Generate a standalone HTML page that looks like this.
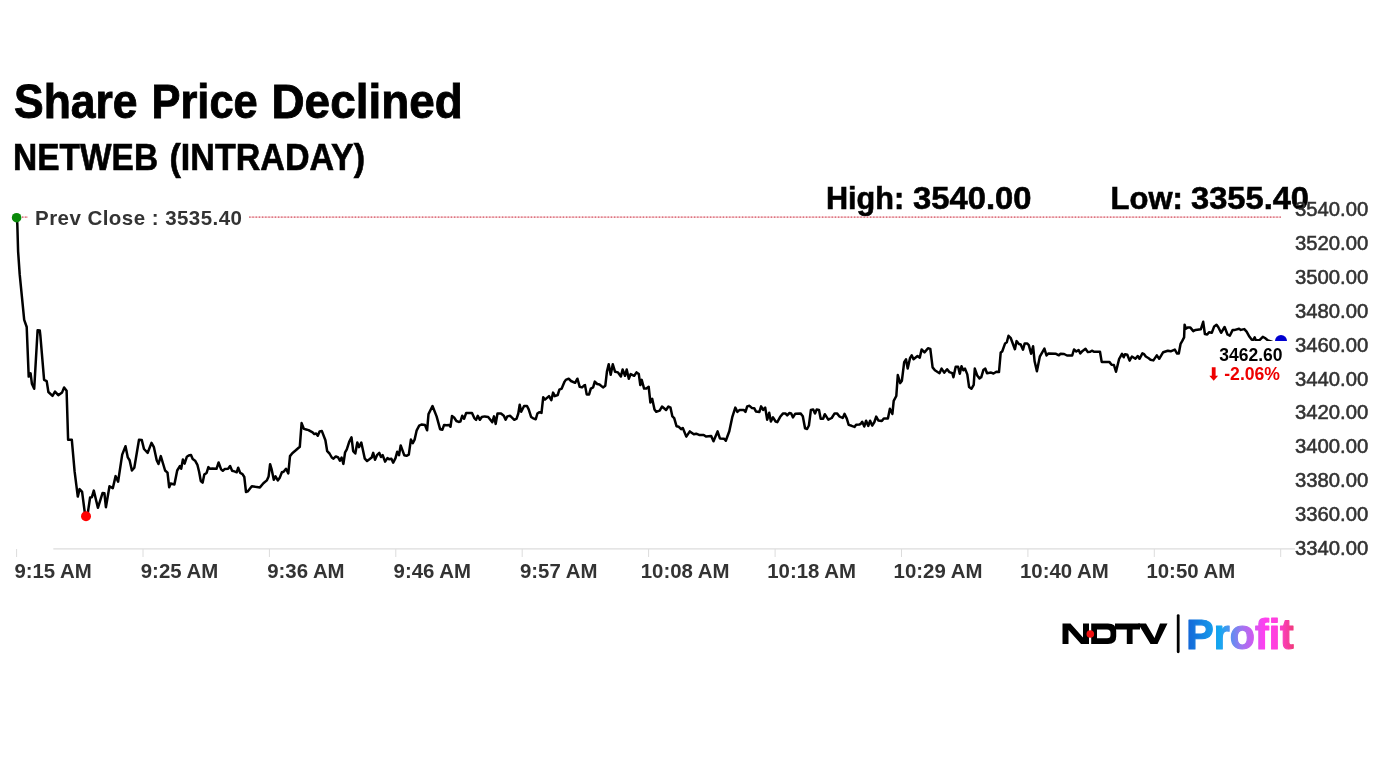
<!DOCTYPE html>
<html><head><meta charset="utf-8">
<style>
html,body{margin:0;padding:0;background:#fff;}
body{width:1382px;height:777px;position:relative;overflow:hidden;font-family:"Liberation Sans",sans-serif;}
svg{position:absolute;left:0;top:0;will-change:transform;}
.t{position:absolute;white-space:nowrap;font-weight:bold;color:#000;line-height:1;}
</style></head><body>
<svg width="1382" height="777" viewBox="0 0 1382 777">
<defs>
<linearGradient id="pg" x1="1188" y1="0" x2="1294" y2="0" gradientUnits="userSpaceOnUse">
<stop offset="0" stop-color="#1468d8"/>
<stop offset="0.3" stop-color="#14a8f0"/>
<stop offset="0.5" stop-color="#9a78f0"/>
<stop offset="0.72" stop-color="#ff3ff0"/>
<stop offset="0.85" stop-color="#ff40d8"/>
<stop offset="1" stop-color="#f03a78"/>
</linearGradient>
</defs>
<!-- title -->
<text x="14.0" y="118" font-family="Liberation Sans" font-weight="bold" font-size="48" fill="#000" stroke="#000" stroke-width="0.9" textLength="123.58" lengthAdjust="spacingAndGlyphs">Share</text>
<text x="151.5" y="118" font-family="Liberation Sans" font-weight="bold" font-size="48" fill="#000" stroke="#000" stroke-width="0.9" textLength="106.14" lengthAdjust="spacingAndGlyphs">Price</text>
<text x="271.5" y="118" font-family="Liberation Sans" font-weight="bold" font-size="48" fill="#000" stroke="#000" stroke-width="0.9" textLength="191.17" lengthAdjust="spacingAndGlyphs">Declined</text>
<text x="13.0" y="170" font-family="Liberation Sans" font-weight="bold" font-size="36.5" fill="#000" stroke="#000" stroke-width="0.6" textLength="145.07" lengthAdjust="spacingAndGlyphs">NETWEB</text>
<text x="169.5" y="170" font-family="Liberation Sans" font-weight="bold" font-size="36.5" fill="#000" stroke="#000" stroke-width="0.6" textLength="195.53" lengthAdjust="spacingAndGlyphs">(INTRADAY)</text>
<text x="826.0" y="208.6" font-family="Liberation Sans" font-weight="bold" font-size="32" fill="#000" stroke="#000" stroke-width="0.6" textLength="78.23" lengthAdjust="spacingAndGlyphs">High:</text>
<text x="913.0" y="208.6" font-family="Liberation Sans" font-weight="bold" font-size="32" fill="#000" stroke="#000" stroke-width="0.6" textLength="118.53" lengthAdjust="spacingAndGlyphs">3540.00</text>
<text x="1110.5" y="208.6" font-family="Liberation Sans" font-weight="bold" font-size="32" fill="#000" stroke="#000" stroke-width="0.6" textLength="72.33" lengthAdjust="spacingAndGlyphs">Low:</text>
<text x="1191.0" y="208.6" font-family="Liberation Sans" font-weight="bold" font-size="32" fill="#000" stroke="#000" stroke-width="0.6" textLength="118.03" lengthAdjust="spacingAndGlyphs">3355.40</text>
<!-- prev close line -->
<line x1="22" y1="217.1" x2="1281" y2="217.1" stroke="#f2b0b8" stroke-width="1"/><line x1="22" y1="217.1" x2="1281" y2="217.1" stroke="#c83848" stroke-width="1" stroke-dasharray="1.3,1.9"/>
<rect x="28" y="204" width="221" height="26" fill="#fff"/>
<text x="35" y="225.4" font-family="Liberation Sans" font-weight="bold" font-size="20.5" fill="#333" textLength="207" lengthAdjust="spacing">Prev Close : 3535.40</text>
<!-- axis -->
<line x1="53.3" y1="548.9" x2="1295" y2="548.9" stroke="#dcdcdc" stroke-width="1.2"/>
<g stroke="#dcdcdc" stroke-width="1"><line x1="16.6" y1="549" x2="16.6" y2="557"/><line x1="143.0" y1="549" x2="143.0" y2="557"/><line x1="269.4" y1="549" x2="269.4" y2="557"/><line x1="395.8" y1="549" x2="395.8" y2="557"/><line x1="522.2" y1="549" x2="522.2" y2="557"/><line x1="648.6" y1="549" x2="648.6" y2="557"/><line x1="775.1" y1="549" x2="775.1" y2="557"/><line x1="901.5" y1="549" x2="901.5" y2="557"/><line x1="1027.9" y1="549" x2="1027.9" y2="557"/><line x1="1154.3" y1="549" x2="1154.3" y2="557"/><line x1="1280.7" y1="549" x2="1280.7" y2="557"/></g>
<g font-family="Liberation Sans" font-weight="bold" font-size="20.4" fill="#333" text-anchor="middle"><text x="53.1" y="578.3">9:15 AM</text><text x="179.5" y="578.3">9:25 AM</text><text x="305.9" y="578.3">9:36 AM</text><text x="432.3" y="578.3">9:46 AM</text><text x="558.7" y="578.3">9:57 AM</text><text x="685.1" y="578.3">10:08 AM</text><text x="811.6" y="578.3">10:18 AM</text><text x="938.0" y="578.3">10:29 AM</text><text x="1064.4" y="578.3">10:40 AM</text><text x="1190.8" y="578.3">10:50 AM</text></g>
<g font-family="Liberation Sans" font-size="20.3" fill="#333" stroke="#333" stroke-width="0.55"><text x="1295" y="215.8">3540.00</text><text x="1295" y="249.7">3520.00</text><text x="1295" y="283.7">3500.00</text><text x="1295" y="317.6">3480.00</text><text x="1295" y="351.6">3460.00</text><text x="1295" y="385.5">3440.00</text><text x="1295" y="419.4">3420.00</text><text x="1295" y="453.4">3400.00</text><text x="1295" y="487.3">3380.00</text><text x="1295" y="521.3">3360.00</text><text x="1295" y="555.2">3340.00</text></g>
<!-- line -->
<path d="M16.6,217.7 L17.3,223.5 L18.1,251.3 L19.7,274.4 L22,297.6 L24.2,319.9 L26.7,327 L28.7,376.6 L30.6,373.4 L31.9,383.7 L34.2,388.8 L37.6,330.2 L39.8,330.6 L40.4,336 L44.1,379.8 L46.7,381.1 L48.4,392 L52.5,395.9 L55,391.6 L58.3,395.2 L62.1,392.4 L64.1,387.5 L66.6,390.7 L68.1,439.7 L71.8,439.7 L74.6,471.4 L77.8,496.6 L79.6,489.1 L82.1,491.9 L84.9,513.4 L87.6,514.3 L90.1,497.5 L91.9,497.2 L93.8,490.6 L97.9,507.8 L102.6,492.9 L104.4,493.2 L105.9,507.2 L109.5,486.3 L112.8,488.2 L115.6,476.1 L118.1,481.7 L122.2,454.6 L125.5,446.2 L127.8,457.4 L129.6,460.2 L131.9,470.5 L134.3,467.7 L139,439.7 L141.8,440.1 L144,449 L147.7,452.8 L151.5,442.9 L153.9,447.2 L156.7,460.2 L158.5,464 L160.8,456.1 L165.1,470.5 L167.5,472.7 L169.2,487.3 L170.7,483.5 L174.4,484.5 L177.2,470.5 L180,466 L181.2,468.8 L182.9,459.6 L184.6,463.6 L186.9,456.7 L188.7,455.5 L191,455 L192.7,459 L195.1,460.7 L197.4,464.8 L199.1,471.7 L200.8,481 L202.6,482.7 L204.3,474.6 L206.6,472.9 L208.4,467.1 L210.1,468.8 L212.4,468.5 L216.5,468.8 L218.6,462.5 L221.1,469.4 L222.8,470.8 L224.6,469.1 L228.1,468.8 L230.1,466 L232.1,470.8 L234.4,471.4 L236.7,472.3 L238.2,467.7 L240.2,472.9 L242.5,474.1 L244.3,477 L246,492 L247.7,491.4 L251.8,486.2 L255.3,486.8 L259.9,487.4 L263.4,483.3 L266.8,480.4 L268.6,476.4 L270.1,464.2 L271.5,468.8 L273.8,479.8 L275.5,476.4 L277.8,480.4 L279.6,478.1 L281.9,472.3 L283.6,471.7 L286,468.8 L288.3,473.5 L290,456.1 L292.3,453.2 L295.8,450.3 L299.8,446.8 L301.6,423.1 L303.9,428.9 L306.2,429.5 L308.5,430.1 L312.6,432.4 L314.3,434.1 L316.1,433.5 L317.8,435.8 L319.6,431.5 L321.9,431.1 L325.4,440.2 L327.2,451.2 L329.5,453.5 L331.8,457.5 L333.5,458.7 L335.8,456.4 L338.2,457.5 L339.9,460.8 L341.6,457.5 L343.4,463.9 L345.1,452.3 L346.8,449.4 L349.2,441.9 L351.5,437.3 L353.2,451.2 L355.3,453.5 L357.3,442.5 L359,447.1 L361.3,442.5 L364.8,458.7 L367.1,461 L369.4,459.3 L371.7,457.5 L373.2,452.9 L375,459.8 L377,455.2 L379.3,452.9 L381,457 L382.7,455.2 L385.1,461.6 L387.4,458.1 L389.1,459.3 L391.4,458.7 L393.2,462.7 L395.5,458.1 L397.2,451.7 L399,455.2 L400.7,445.4 L404.2,455.2 L406.5,455.8 L408.8,454.6 L410.9,439.6 L412.8,443.1 L414.6,439.6 L416.7,430.3 L419.2,425.7 L421.5,424.5 L425,425.1 L427.1,430.3 L428.5,414.1 L432.5,406 L436.6,416.4 L440.1,429.2 L442.4,429.7 L444.1,424.9 L446.4,425.3 L449.3,424.9 L450.5,426.8 L452,416 L454.1,417.5 L456.4,421 L458.7,421.9 L460.4,421.6 L462.2,415.8 L464.1,418.7 L466.2,412.9 L469.1,413.1 L472,412.9 L474.3,418.1 L476.1,419.8 L477.8,415.8 L479.9,419.8 L481.8,417 L484.7,416.4 L488.2,417 L492.3,422.2 L494,416.4 L495.7,423.9 L497.5,413.5 L501,413.5 L503.8,415.8 L505.6,419.8 L507.3,416.4 L510.2,415.8 L514.3,419.8 L516.6,418.7 L518.3,413.5 L519.7,404.8 L521.2,411.7 L524.1,406 L527,406 L528.7,409.4 L531.1,416.9 L532.8,418.1 L535.7,419.3 L537.4,413.5 L539.2,412.3 L541.5,412.9 L543.2,397.3 L545,399.6 L549,396.1 L551.3,400.2 L553.1,392.6 L554.8,396.1 L557.7,395 L559.4,389.7 L561.7,388.6 L564.6,381.6 L565.8,379.9 L568.7,378.7 L571,381 L575.1,382.8 L577.4,378.7 L579.7,386.8 L582,387.4 L584.3,385.3 L585,385.1 L586.7,394.4 L589.1,394.4 L590.8,388.6 L593.1,387.4 L594.8,381.6 L597.2,384 L599.5,384.5 L603,387.4 L605.3,385.7 L607,371.2 L608.7,364.3 L610.7,374.7 L612.8,364.3 L615.1,371.8 L618,372.4 L620.9,376.4 L622.6,369.5 L625,375.8 L626.7,369.5 L628.8,378.7 L630.7,374.1 L634.2,375.8 L636.5,372.4 L638.8,374.1 L640.3,385.1 L641.7,379.9 L644.1,388.6 L646.4,388.6 L648.7,386.8 L650.4,402.5 L652.2,398.8 L654.5,409.4 L656.2,411.7 L659.7,410.6 L662,406.5 L666.1,410 L668.4,406.5 L670.5,407.7 L672.4,416.4 L674.2,418.1 L676.5,426.2 L678.8,426.8 L681.1,429.1 L682.8,428 L686.3,436.6 L689.8,431.4 L693.8,434.3 L696.2,433.7 L699.1,434.9 L703.7,434.9 L706,436.6 L711.2,436.1 L713.5,441.3 L717.6,431.4 L719.9,438.4 L724.1,438.8 L725.8,440.8 L729.3,431.3 L732.2,417.4 L735.3,407.6 L737.4,411.9 L739.7,409.9 L743.7,409.9 L745.5,411.9 L747.2,406.4 L749.5,405.8 L751.8,407.9 L754.2,408.2 L755.9,411.4 L759.4,411.9 L761.1,406.4 L763.1,409.9 L765.2,407.6 L767.2,419.7 L769.2,412.8 L770.9,421.5 L773,417.4 L775.6,421.5 L777.3,422.1 L780.2,416.8 L783.1,413.4 L785.4,413.4 L787.2,415.3 L789.5,413 L791.2,413.4 L793,417.4 L795.3,413.7 L800.5,413.4 L802.8,416.3 L805.1,428.4 L807.1,429 L808.9,425.5 L810.9,409.9 L813.2,409.5 L815,413.4 L816.7,409.5 L819,409.9 L820.7,418.8 L823.1,418.8 L824.8,414.2 L828.3,419.7 L831.7,418 L834.6,413.4 L837,413.4 L839.3,416.3 L842.7,418 L844.5,413.9 L846.8,418.6 L848.7,424.9 L851.6,425.8 L854.5,426.9 L856.1,424.7 L859.3,424.6 L860.9,423.6 L862.2,421.7 L864.3,426.5 L866.1,420.7 L868.3,425.9 L870.1,420.7 L872.2,425.6 L874.4,422 L876.2,416.6 L878.3,420.4 L881.8,421.1 L883.8,418.5 L887.9,418.5 L889.9,408.8 L892.4,414 L893.7,400.8 L896.3,396 L897.8,375 L900.2,383.1 L901.9,380.7 L904.2,362.2 L906,359.3 L907.7,368.6 L910,358.2 L911.7,355.3 L913.5,359.3 L917.5,356.1 L919.8,357.6 L921.6,349.5 L924.5,352.4 L928,348.3 L930.3,348.9 L932.6,367.4 L934.9,370.3 L939.5,373.2 L941.6,368.6 L944.2,372.6 L947.1,369.2 L949.4,372.1 L952.3,373.2 L953.4,377.3 L955.7,366.8 L958.1,366.8 L959.8,373.8 L961.5,366.3 L963.3,370.3 L965,368.6 L967.3,374.4 L969.1,387.1 L971.4,388.8 L973.7,384.8 L974.8,368.6 L977.2,375.5 L979.5,378.4 L981.2,377.3 L983.5,369.7 L985.3,368.6 L987,373.2 L991.1,372.6 L993.5,373.5 L996.4,371.7 L999,372 L1000.7,352.6 L1002.2,351.5 L1005.1,343.4 L1006.8,342.2 L1008.5,335.8 L1010.8,338.2 L1014.9,349.2 L1016.6,341.1 L1018.9,344 L1020.7,344.5 L1023,349.7 L1024.7,343.4 L1027.1,343.4 L1028.8,345.1 L1031.1,353.8 L1033.1,346.3 L1034.6,361.3 L1036.9,371.2 L1039.8,356.7 L1044.4,348.6 L1046.5,355.5 L1048.5,353.4 L1056,353.8 L1058.9,355.3 L1060.6,353.8 L1064.1,354 L1067,355.5 L1072.2,355.5 L1074,349.5 L1076.3,351.5 L1078.6,350 L1080.3,353.4 L1082.6,350.9 L1085.5,348.8 L1087.8,352.1 L1090.2,351.8 L1091.9,350.7 L1094.2,351.8 L1100,351.8 L1101.7,361.9 L1109.3,361.9 L1111.6,364.8 L1113.9,365 L1116,371.7 L1119.1,359 L1122,353.8 L1123.7,357.3 L1125,354.2 L1127.3,354.8 L1129.6,360.6 L1131.9,356.5 L1135.4,358.8 L1137.7,356 L1139.5,358.8 L1142.4,353.4 L1144.1,354.2 L1145.8,356.5 L1148.7,358.3 L1150.5,359.7 L1153.4,360.4 L1156.8,355.4 L1159.2,358.8 L1163.2,352.2 L1167.8,350.7 L1170.7,351.3 L1174.8,349.6 L1177.1,353.6 L1178.8,353.4 L1180.6,343.8 L1182.3,340.9 L1184.1,337.4 L1184.6,324.7 L1185.8,328.7 L1187.5,327.6 L1190.4,327.6 L1193.3,331.1 L1195.6,329.9 L1200.8,329.3 L1203.2,321.8 L1204.9,334 L1207.2,334.5 L1209,332.2 L1211.8,332.8 L1214.2,326.4 L1216.5,324.7 L1218.2,327 L1221.1,332.8 L1224.6,327 L1227.5,334.5 L1229.8,335.7 L1232.7,329.9 L1235,329.9 L1239.1,328.7 L1240.8,329.9 L1244.3,329.1 L1246.6,331.6 L1249.5,336.8 L1251.8,339.7 L1253.5,339.7 L1254.7,337.4 L1255.8,340.3 L1259.3,340.3 L1262.8,336.8 L1265,338 L1268,340.4 L1275,343 L1281,341" fill="none" stroke="#000" stroke-width="2.5" stroke-linejoin="round" stroke-linecap="round"/>
<circle cx="16.6" cy="217.7" r="4.8" fill="#0a8a0a"/>
<circle cx="86" cy="516.2" r="5" fill="#f00"/>
<circle cx="1281" cy="341" r="6" fill="#0000d0"/>
<rect x="1205" y="341" width="86" height="45" fill="#fff"/>
<text x="1282.5" y="360.5" font-family="Liberation Sans" font-weight="bold" font-size="17.5" fill="#000" text-anchor="end">3462.60</text>
<text x="1280" y="380" font-family="Liberation Sans" font-weight="bold" font-size="17.6" fill="#e00" text-anchor="end">-2.06%</text>
<path d="M1211.8,367.2 h3.8 v8.6 h2.5 l-4.4,4.9 l-4.4,-4.9 h2.5 z" fill="#e00"/>
<!-- logo -->
<g fill="#000">
<path d="M1062.5,623.6 H1070.5 L1083,637.5 V623.6 H1089 V644 H1081 L1068.5,630 V644 H1062.5 Z"/>
<path fill-rule="evenodd" d="M1091.2,623.6 H1108 Q1116.2,623.6 1116.2,631 V636.5 Q1116.2,644 1108,644 H1091.2 Z M1097,629.4 H1107 Q1110.5,629.4 1110.5,633 V635 Q1110.5,638.3 1107,638.3 H1097 Z"/>
<path d="M1115,623.6 H1140 V629.4 H1132.6 V644 H1126.8 V629.4 H1115 Z"/>
<path d="M1138,623.6 H1146 L1154.5,638 L1160,623.6 H1167.5 L1157.5,644 H1150.5 Z"/>
<rect x="1176.8" y="614.2" width="2.8" height="39" rx="1.4"/>
</g>
<circle cx="1090.3" cy="634" r="3.8" fill="#f01010"/>
<text x="1186.3" y="648.9" font-family="Liberation Sans" font-weight="bold" font-size="43" fill="url(#pg)" stroke="url(#pg)" stroke-width="1.2" stroke-linejoin="round" textLength="107.5" lengthAdjust="spacingAndGlyphs">Profit</text>
</svg>
</body></html>
